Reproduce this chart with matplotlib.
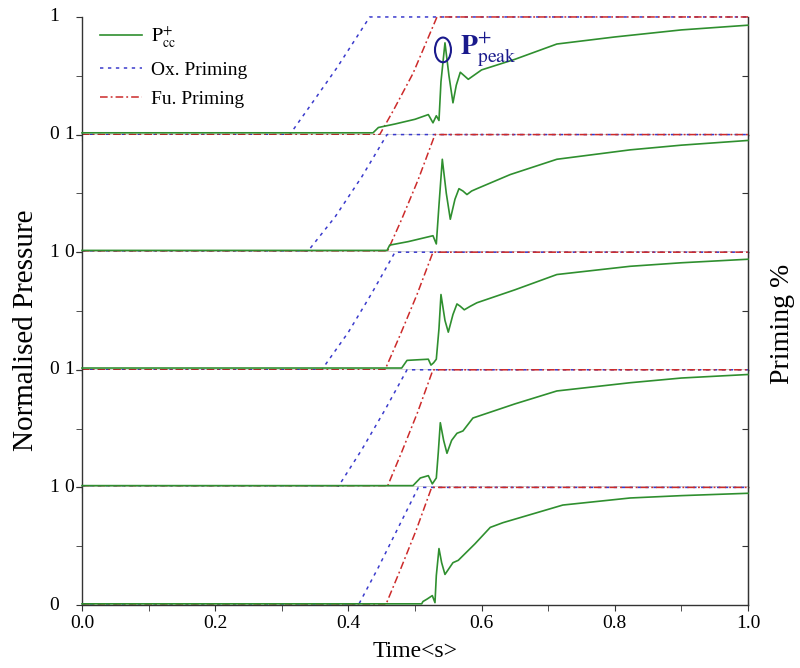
import matplotlib
matplotlib.use("Agg")
import matplotlib.pyplot as plt
from matplotlib.patches import Ellipse
from matplotlib.ticker import MultipleLocator

plt.rcParams["font.family"] = ["Liberation Serif", "DejaVu Serif"]
plt.rcParams["mathtext.fontset"] = "stix"

# time axis values are in seconds, everything normalised 0..1

# chamber pressure P_cc+ for the five runs (top to bottom)
pcc_t = [
    [0, 0.437, 0.445, 0.47, 0.50, 0.52, 0.527, 0.532, 0.536, 0.539, 0.545, 0.551, 0.557,
     0.562, 0.568, 0.574, 0.58, 0.59, 0.60, 0.65, 0.713, 0.80, 0.90, 1.0],
    [0, 0.458, 0.462, 0.49, 0.527, 0.532, 0.536, 0.541, 0.547, 0.553, 0.56, 0.566, 0.572,
     0.578, 0.585, 0.593, 0.643, 0.713, 0.823, 0.9, 1.0],
    [0, 0.48, 0.488, 0.52, 0.524, 0.528, 0.532, 0.536, 0.539, 0.545, 0.55, 0.557, 0.563,
     0.568, 0.574, 0.583, 0.593, 0.65, 0.713, 0.823, 0.9, 1.0],
    [0, 0.497, 0.508, 0.52, 0.526, 0.532, 0.535, 0.538, 0.543, 0.548, 0.555, 0.563, 0.572,
     0.587, 0.65, 0.713, 0.823, 0.9, 1.0],
    [0, 0.51, 0.512, 0.518, 0.526, 0.53, 0.532, 0.536, 0.54, 0.545, 0.551, 0.557, 0.565,
     0.59, 0.613, 0.632, 0.68, 0.722, 0.823, 0.9, 1.0],
]
pcc_v = [
    [0.015, 0.015, 0.06, 0.09, 0.13, 0.17, 0.10, 0.16, 0.12, 0.45, 0.78, 0.50, 0.27,
     0.42, 0.53, 0.50, 0.47, 0.51, 0.55, 0.64, 0.77, 0.83, 0.89, 0.93],
    [0.015, 0.015, 0.06, 0.09, 0.14, 0.07, 0.40, 0.79, 0.50, 0.28, 0.45, 0.54, 0.52,
     0.49, 0.52, 0.54, 0.66, 0.79, 0.87, 0.91, 0.95],
    [0.015, 0.015, 0.08, 0.09, 0.04, 0.06, 0.09, 0.35, 0.64, 0.42, 0.32, 0.47, 0.56,
     0.54, 0.51, 0.54, 0.57, 0.68, 0.81, 0.88, 0.91, 0.94],
    [0.015, 0.015, 0.08, 0.10, 0.03, 0.08, 0.30, 0.55, 0.40, 0.29, 0.40, 0.46, 0.48,
     0.59, 0.71, 0.82, 0.89, 0.93, 0.96],
    [0.01, 0.01, 0.03, 0.05, 0.08, 0.02, 0.25, 0.48, 0.36, 0.26, 0.31, 0.36, 0.38,
     0.52, 0.66, 0.70, 0.78, 0.85, 0.91, 0.93, 0.95],
]

# oxidiser priming
ox_t = [
    [0, 0.312, 0.347, 0.383, 0.432, 1.0],
    [0, 0.338, 0.38, 0.42, 0.458, 1.0],
    [0, 0.36, 0.40, 0.435, 0.47, 1.0],
    [0, 0.384, 0.42, 0.455, 0.488, 1.0],
    [0, 0.415, 0.445, 0.475, 0.505, 1.0],
]
ox_v = [
    [0, 0, 0.28, 0.57, 1, 1],
    [0, 0, 0.30, 0.64, 1, 1],
    [0, 0, 0.32, 0.65, 1, 1],
    [0, 0, 0.32, 0.66, 1, 1],
    [0, 0, 0.32, 0.66, 1, 1],
]

# fuel priming
fu_t = [
    [0, 0.447, 0.467, 0.497, 0.533, 1.0],
    [0, 0.458, 0.48, 0.505, 0.530, 1.0],
    [0, 0.455, 0.478, 0.503, 0.527, 1.0],
    [0, 0.458, 0.48, 0.504, 0.527, 1.0],
    [0, 0.456, 0.478, 0.502, 0.525, 1.0],
]
fu_v = [
    [0, 0, 0.20, 0.52, 1, 1],
    [0, 0, 0.28, 0.62, 1, 1],
    [0, 0, 0.30, 0.64, 1, 1],
    [0, 0, 0.30, 0.64, 1, 1],
    [0, 0, 0.30, 0.64, 1, 1],
]

# y labels at the panel boundaries, top to bottom (two columns as in the figure)
left_labels = ["1", "0", "1", "0", "1", "0"]
right_labels = ["", "1", "0", "1", "0", ""]
x_ticks = [0.0, 0.2, 0.4, 0.6, 0.8, 1.0]

green = "#2f8f2f"
blue = "#3a3acc"
red = "#cc2a2a"
navy = "#1a1a8c"
axcol = "#333333"

fig, axes = plt.subplots(5, 1, sharex=True, figsize=(8, 6.68), dpi=100)
fig.subplots_adjust(left=0.1025, right=0.935, top=0.9746, bottom=0.0943, hspace=0)

for i, ax in enumerate(axes):
    ax.plot(pcc_t[i], pcc_v[i], color=green, lw=1.2, clip_on=False,
            label=r"$\mathrm{P}_{\mathrm{cc}}^{+}$", zorder=3)
    ax.plot(ox_t[i], ox_v[i], color=blue, lw=1.1, ls=(0, (2.2, 3)), clip_on=False,
            label="Ox. Priming", zorder=2)
    ax.plot(fu_t[i], fu_v[i], color=red, lw=1.1, ls=(0, (5, 2, 1.2, 2)), clip_on=False,
            label="Fu. Priming", zorder=2)

    ax.set_xlim(0, 1)
    ax.set_ylim(0, 1)
    ax.spines["top"].set_visible(False)
    for s in ["left", "right", "bottom"]:
        ax.spines[s].set_color(axcol)
        ax.spines[s].set_linewidth(1.0)

    ax.set_yticks([0, 1])
    ax.yaxis.set_minor_locator(MultipleLocator(0.5))
    ax.set_yticklabels([])
    ax.tick_params(axis="y", which="both", direction="out", length=4, color=axcol,
                   left=True, right=False)
    ax.xaxis.set_major_locator(MultipleLocator(0.2))
    ax.xaxis.set_minor_locator(MultipleLocator(0.1))
    ax.tick_params(axis="x", which="both", direction="out", length=4, color=axcol)

    # right side: inward ticks at mid panel
    rax = ax.secondary_yaxis("right")
    rax.set_yticks([0.5])
    rax.set_yticklabels([])
    rax.tick_params(direction="in", length=4, color=axcol)
    rax.spines["right"].set_color(axcol)

    ax.text(-0.042, 1, left_labels[i], transform=ax.transAxes, ha="center",
            va="center", fontsize=14)
    ax.text(-0.02, 1, right_labels[i], transform=ax.transAxes, ha="center",
            va="center", fontsize=14)

axes[-1].text(-0.042, 0, left_labels[-1], transform=axes[-1].transAxes, ha="center",
              va="center", fontsize=14)
axes[-1].set_xticks(x_ticks)
axes[-1].set_xticklabels([f"{v:.1f}" for v in x_ticks], fontsize=14)
axes[-1].set_xlabel("Time<s>", fontsize=17, labelpad=6)

top = axes[0]
top.legend(loc="upper left", bbox_to_anchor=(0.0, 1.09), frameon=False, fontsize=14,
           handlelength=2.2, handletextpad=0.45, labelspacing=0.62)
top.add_patch(Ellipse((0.542, 0.72), 0.024, 0.21, fill=False, edgecolor=navy, lw=1.5,
                      zorder=4, clip_on=False))
top.text(0.567, 0.72, r"$\mathbf{P}^{+}_{\mathrm{peak}}$", color=navy, fontsize=20,
         va="center", ha="left")

fig.text(0.032, 0.505, "Normalised Pressure", rotation=90, ha="center", va="center",
         fontsize=21)
fig.text(0.978, 0.515, "Priming %", rotation=90, ha="center", va="center",
         fontsize=20)

fig.savefig("out.png", dpi=100)
